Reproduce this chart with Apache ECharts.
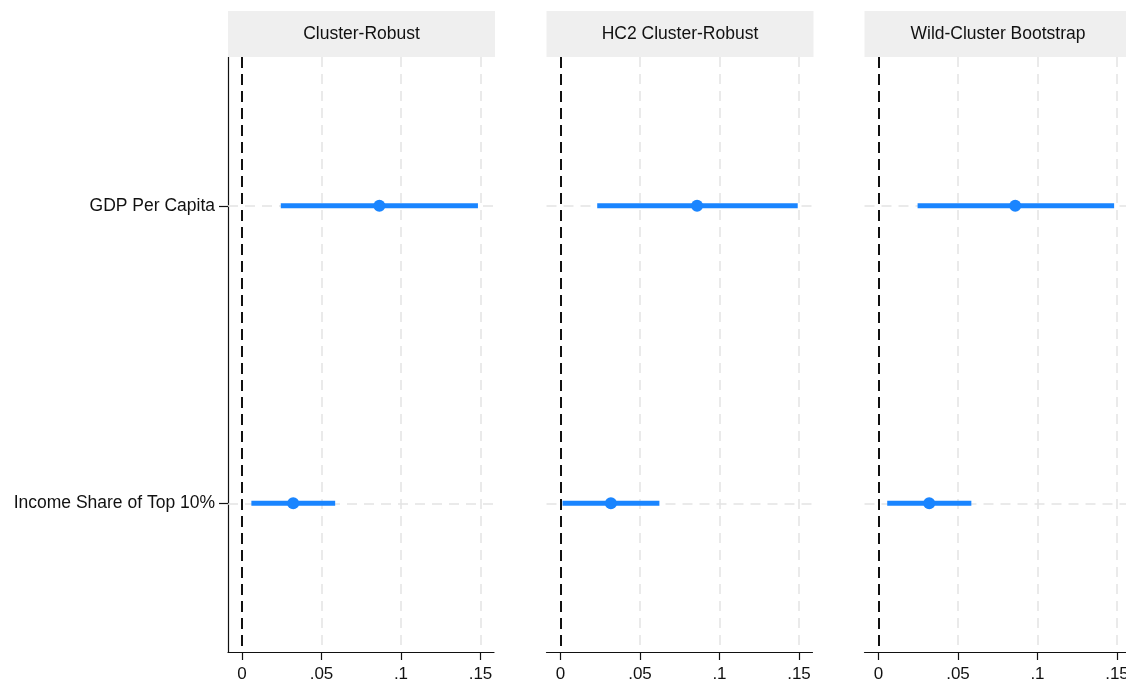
<!DOCTYPE html>
<html>
<head>
<meta charset="utf-8">
<script src="https://cdn.jsdelivr.net/npm/echarts@6/dist/echarts.min.js"></script>
<style>
html,body{margin:0;padding:0;background:#fff;}
#chart{width:1126px;height:683px;}
</style>
</head>
<body>
<div id="chart"></div>
<script>
const categories = ['GDP Per Capita', 'Income Share of Top 10%'];
const panelTitles = ['Cluster-Robust', 'HC2 Cluster-Robust', 'Wild-Cluster Bootstrap'];
const estimates = [[0.0864, 0.0322], [0.0859, 0.0317], [0.0860, 0.0319]];
const ciLow = [[0.0244, 0.0059], [0.0231, 0.0013], [0.0246, 0.0055]];
const ciHigh = [[0.1484, 0.0586], [0.1492, 0.0622], [0.1482, 0.0584]];
const tickValues = [0, 0.05, 0.1, 0.15];
const tickLabels = ['0', '.05', '.1', '.15'];
const gridValues = [0.05, 0.1, 0.15];

const FONT = 'Liberation Sans, Arial, Helvetica, sans-serif';
const BLUE = '#1a85ff';
const panelLeft = [228, 546.5, 864.5];
const panelWidth = 266;
const axisMin = -0.0088;
const axisMax = 0.1585;
const plotTop = 57;
const plotBottom = 31;

const chart = echarts.init(document.getElementById('chart'), null, {renderer: 'canvas'});

const grids = [], xAxes = [], yAxes = [], series = [], graphics = [];
panelTitles.forEach((t, p) => {
  grids.push({left: panelLeft[p], width: panelWidth, top: plotTop, bottom: plotBottom,
    containLabel: false, outerBoundsMode: 'none'});
  xAxes.push({
    type: 'value', gridIndex: p, min: axisMin, max: axisMax,
    axisLine: {show: true, onZero: false, lineStyle: {color: '#111', width: 1.2}},
    axisTick: {show: true, length: 8, customValues: tickValues, lineStyle: {color: '#111', width: 1.2}},
    axisLabel: {
      show: true, customValues: tickValues, margin: 14,
      fontFamily: FONT, fontSize: 17, color: '#111',
      formatter: v => {
        for (let i = 0; i < tickValues.length; i++) if (Math.abs(v - tickValues[i]) < 1e-9) return tickLabels[i];
        return '';
      }
    },
    splitLine: {show: false}
  });
  yAxes.push({
    type: 'category', gridIndex: p, data: categories, inverse: true,
    axisLine: {show: p === 0, onZero: false, lineStyle: {color: '#111', width: 1.2}},
    axisTick: {show: p === 0, alignWithLabel: true, length: 9, lineStyle: {color: '#111', width: 1.2}},
    axisLabel: {show: p === 0, margin: 13, fontFamily: FONT, fontSize: 17.5, color: '#111'},
    splitLine: {show: false}
  });
  series.push({
    type: 'scatter', xAxisIndex: p, yAxisIndex: p, data: [], z: 1, silent: true,
    markLine: {
      z: 1, silent: true, symbol: ['none', 'none'], label: {show: false}, animation: false,
      lineStyle: {color: '#e3e3e3', type: [10, 7], width: 1.5},
      data: gridValues.map(v => ({xAxis: v})).concat(categories.map(c => ({yAxis: c})))
    }
  });
  series.push({
    type: 'scatter', xAxisIndex: p, yAxisIndex: p, data: [], z: 2, silent: true,
    markLine: {
      z: 2, silent: true, symbol: ['none', 'none'], label: {show: false}, animation: false,
      lineStyle: {color: '#111', type: [11, 6], width: 2},
      data: [{xAxis: 0}]
    }
  });
  series.push({
    type: 'custom', xAxisIndex: p, yAxisIndex: p, z: 3,
    encode: {x: [0, 1], y: 2},
    data: categories.map((c, i) => [ciLow[p][i], ciHigh[p][i], i]),
    renderItem: (params, api) => {
      const y = api.value(2);
      const a = api.coord([api.value(0), y]);
      const b = api.coord([api.value(1), y]);
      return {type: 'line', shape: {x1: a[0], y1: a[1], x2: b[0], y2: b[1]},
        style: {stroke: BLUE, lineWidth: 5, lineCap: 'butt'}};
    }
  });
  series.push({
    type: 'scatter', xAxisIndex: p, yAxisIndex: p, z: 4,
    symbol: 'circle', symbolSize: 12,
    itemStyle: {color: BLUE, opacity: 1},
    data: categories.map((c, i) => [estimates[p][i], c])
  });
  const hw = 267;
  graphics.push({
    type: 'rect', left: panelLeft[p], top: 11, z: 10,
    shape: {width: hw, height: 46},
    style: {fill: '#efefef'}
  });
  graphics.push({
    type: 'text', z: 11,
    x: panelLeft[p] + hw / 2, y: 34,
    style: {text: t, fill: '#111', font: '17.5px ' + FONT, align: 'center', verticalAlign: 'middle'}
  });
});

chart.setOption({
  animation: false,
  backgroundColor: '#fff',
  grid: grids, xAxis: xAxes, yAxis: yAxes, series: series,
  graphic: graphics
});
</script>
</body>
</html>
